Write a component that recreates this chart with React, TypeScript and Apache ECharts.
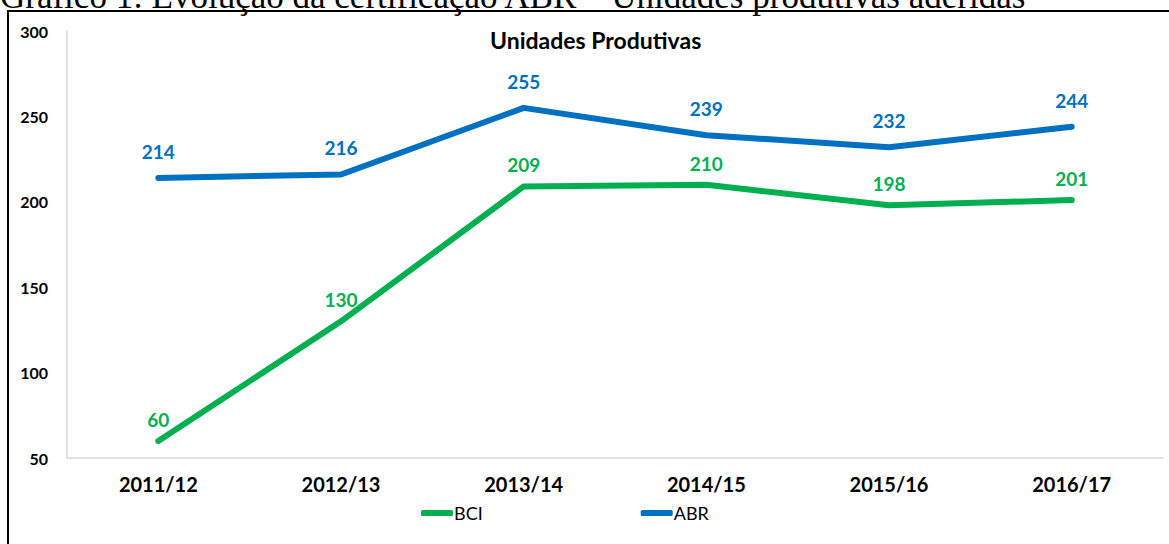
import React, { useEffect, useRef } from "react";
import * as echarts from "echarts";

const categories = ["2011/12", "2012/13", "2013/14", "2014/15", "2015/16", "2016/17"];
const bciValues = [60, 130, 209, 210, 198, 201];
const abrValues = [214, 216, 255, 239, 232, 244];
const yTicks = { min: 50, max: 300, interval: 50 };
const docTitle = "Gráfico 1: Evolução da certificação ABR – Unidades produtivas aderidas";
const chartTitle = "Unidades Produtivas";

const GREEN = "#00B050";
const BLUE = "#0070C0";
const FONT = "Lato, 'Open Sans', sans-serif";

export default function App() {
  const ref = useRef<HTMLDivElement>(null);
  useEffect(() => {
    if (!ref.current) return;
    const chart = echarts.init(ref.current, undefined, { renderer: "svg" });
    const mkSeries = (name: string, data: number[], color: string, dist: number) => ({
      name,
      type: "line",
      data,
      symbol: "circle",
      symbolSize: 2,
      showSymbol: true,
      color,
      itemStyle: { color },
      lineStyle: { width: 6, color, cap: "round", join: "round" },
      label: {
        show: true,
        position: "top",
        distance: dist,
        color,
        fontFamily: FONT,
        fontWeight: "bold",
        fontSize: 19,
      },
    });
    chart.setOption({
      animation: false,
      backgroundColor: "#ffffff",
      title: {
        text: chartTitle,
        left: 485,
        top: 23,
        textStyle: { fontFamily: FONT, fontWeight: "bold", fontSize: 23, color: "#000" },
      },
      graphic: [
        {
          type: "text",
          x: 0,
          y: 14,
          style: {
            text: docTitle,
            font: "35px 'Liberation Serif', 'Times New Roman', serif",
            fill: "#000",
            verticalAlign: "bottom",
            align: "left",
          },
        },
        {
          type: "rect",
          shape: { x: 8, y: 11, width: 1200, height: 600 },
          style: { fill: "none", stroke: "#000", lineWidth: 2 },
        },
      ],
      legend: {
        data: ["BCI", "ABR"],
        left: 416,
        top: 499,
        icon: "roundRect",
        itemWidth: 32,
        itemHeight: 6,
        itemGap: 158,
        textStyle: { fontFamily: FONT, fontSize: 18, color: "#000", padding: [0, 0, 0, -4] },
      },
      grid: { left: 67, right: 6, top: 31, bottom: 86, containLabel: false },
      xAxis: {
        type: "category",
        data: categories,
        boundaryGap: true,
        axisLine: { show: true, lineStyle: { color: "#d9d9d9", width: 1.5 } },
        axisTick: { show: false },
        axisLabel: {
          margin: 16,
          fontFamily: FONT,
          fontWeight: "bold",
          fontSize: 20,
          color: "#000",
        },
      },
      yAxis: {
        type: "value",
        min: yTicks.min,
        max: yTicks.max,
        interval: yTicks.interval,
        axisLine: { show: true, lineStyle: { color: "#d9d9d9", width: 1.5 } },
        axisTick: { show: false },
        splitLine: { show: false },
        axisLabel: {
          margin: 19,
          fontFamily: FONT,
          fontWeight: "bold",
          fontSize: 16,
          color: "#000",
        },
      },
      series: [mkSeries("BCI", bciValues, GREEN, 11), mkSeries("ABR", abrValues, BLUE, 16)],
    });
    return () => chart.dispose();
  }, []);
  return (
    <div
      ref={ref}
      style={{ position: "fixed", left: 0, top: 0, width: 1169, height: 544 }}
    />
  );
}
